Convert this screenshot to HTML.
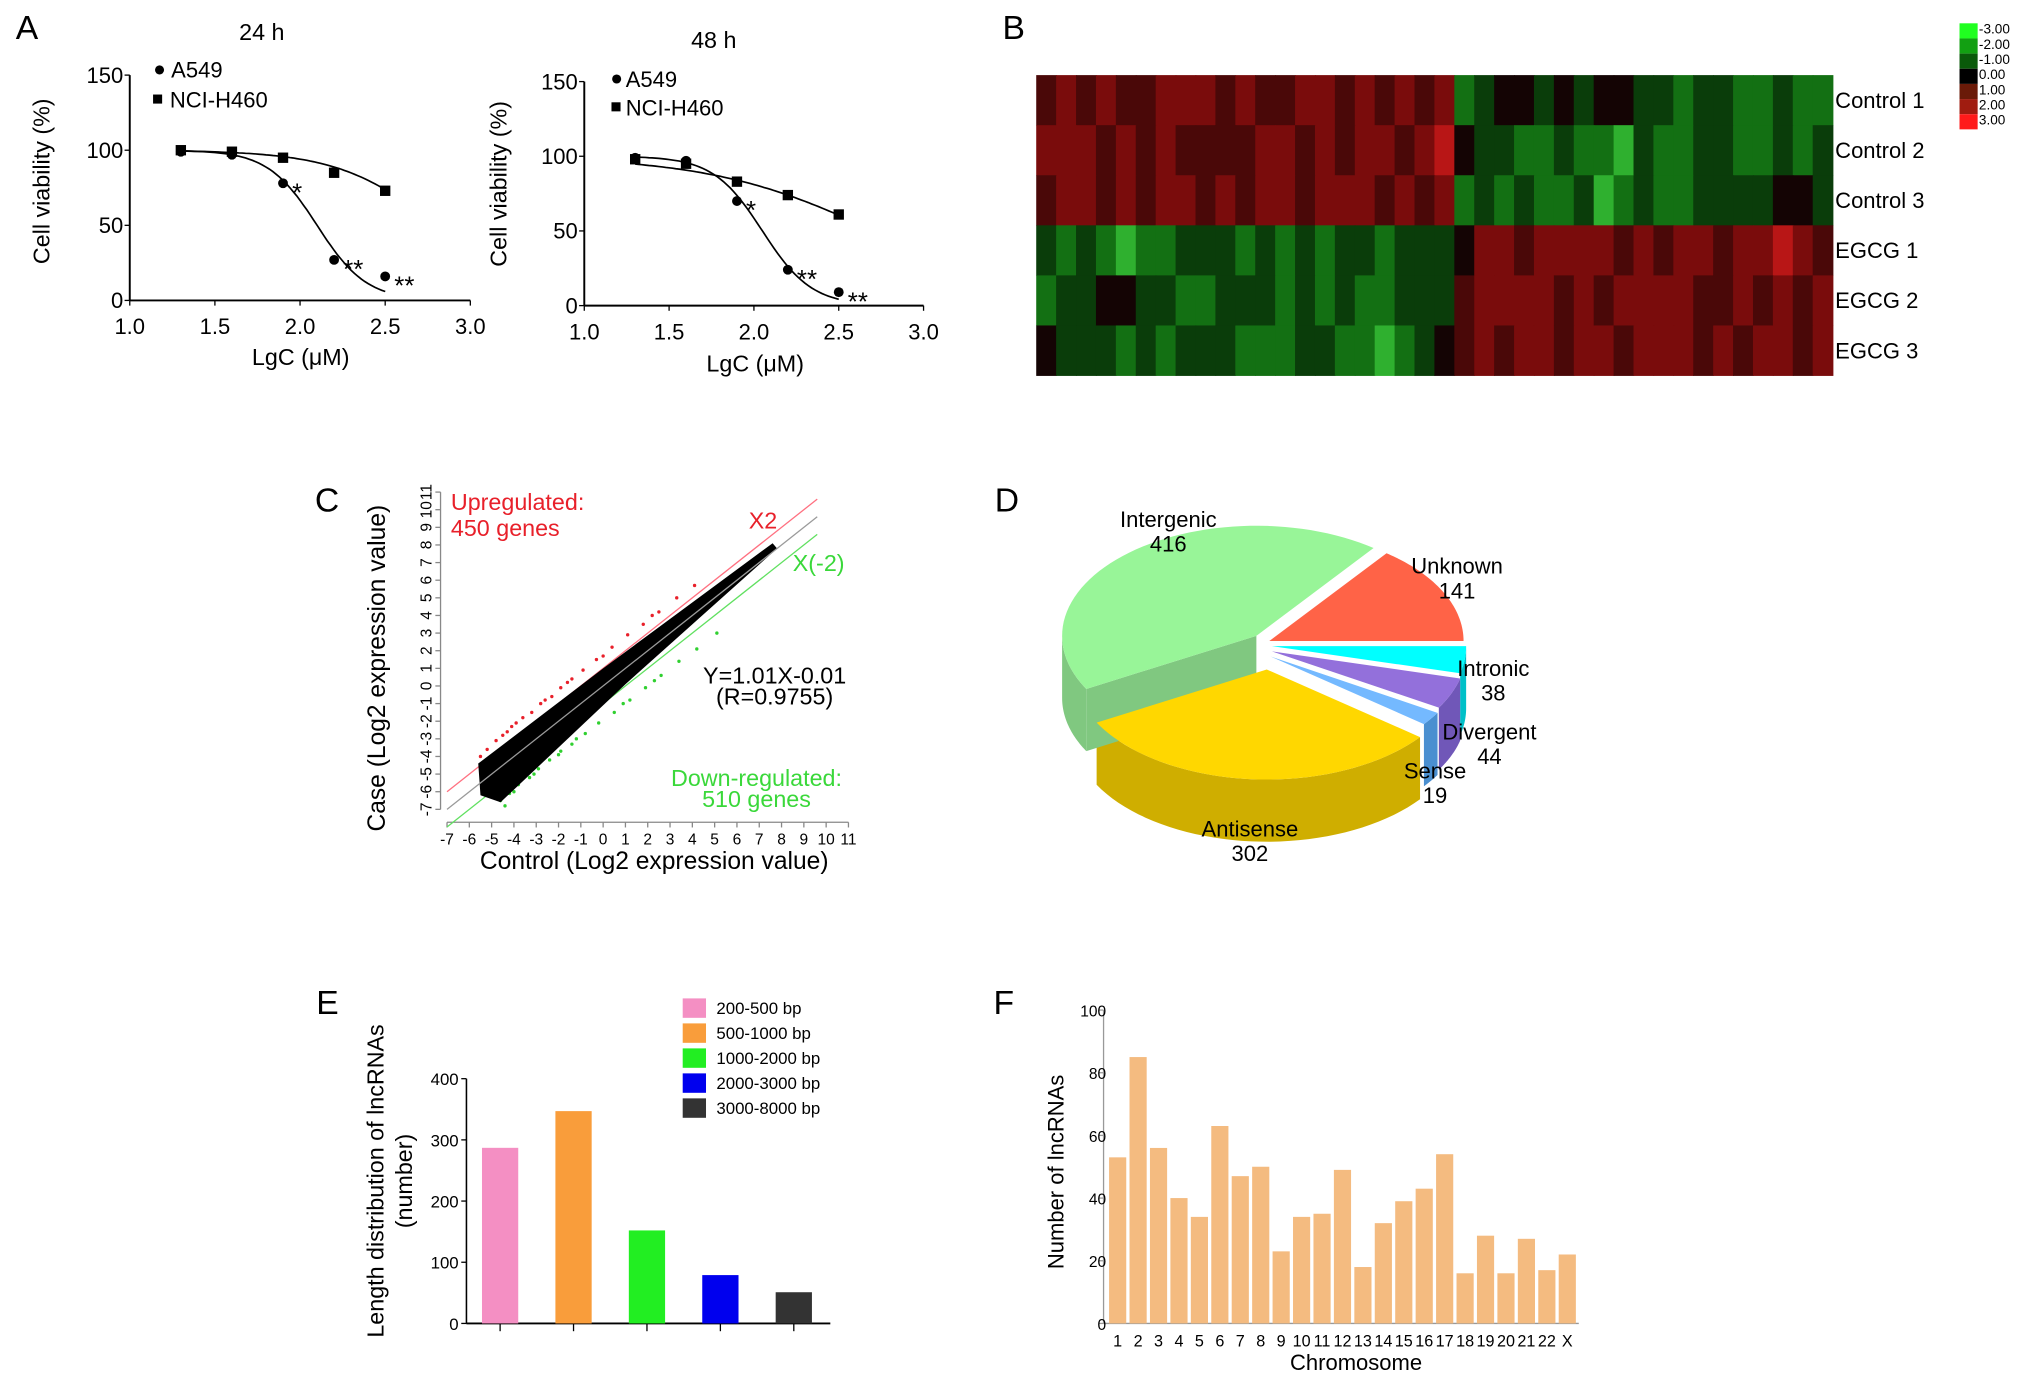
<!DOCTYPE html>
<html><head><meta charset="utf-8"><style>
html,body{margin:0;padding:0;background:#fff;}
svg{display:block;font-family:"Liberation Sans",sans-serif;}
</style></head><body>
<svg id="fig" width="2031" height="1383" viewBox="0 0 1568 1068" xmlns="http://www.w3.org/2000/svg">
<rect width="1568" height="1068" fill="#fff"/>
<g id="pA">
<text x="12" y="30" font-size="26">A</text>
<text x="202" y="31" font-size="18" text-anchor="middle">24 h</text>
<text x="551" y="37" font-size="18" text-anchor="middle">48 h</text>
<text transform="translate(38,140) rotate(-90)" font-size="18" text-anchor="middle">Cell viability (%)</text>
<text transform="translate(391,142) rotate(-90)" font-size="18" text-anchor="middle">Cell viability (%)</text>
<text x="232" y="282" font-size="18" text-anchor="middle">LgC (μM)</text>
<text x="583" y="287" font-size="18" text-anchor="middle">LgC (μM)</text>
<g>
<circle cx="123" cy="54" r="3.5" fill="#000"/><text x="132" y="60" font-size="17">A549</text>
<rect x="118" y="73" width="7" height="7" fill="#000"/><text x="131" y="83" font-size="17">NCI-H460</text></g>
<g>
<circle cx="476" cy="61" r="3.5" fill="#000"/><text x="483" y="67" font-size="17">A549</text>
<rect x="472" y="79" width="7" height="7" fill="#000"/><text x="483" y="89" font-size="17">NCI-H460</text></g>
</g>
<g id="pB">
<text x="774" y="30" font-size="26">B</text>
</g>
<g id="pC">
<text x="243" y="395" font-size="26">C</text>
<text transform="translate(297,516) rotate(-90)" font-size="19" text-anchor="middle">Case (Log2 expression value)</text>
<text x="505" y="671" font-size="19" text-anchor="middle">Control (Log2 expression value)</text>
<text x="348" y="394" font-size="18" fill="#e8202a">Upregulated:</text>
<text x="348" y="414" font-size="18" fill="#e8202a">450 genes</text>
<text x="578" y="408" font-size="18" fill="#e8202a">X2</text>
<text x="612" y="441" font-size="18" fill="#3ad83a">X(-2)</text>
<text x="598" y="528" font-size="18" text-anchor="middle">Y=1.01X-0.01</text>
<text x="598" y="544" font-size="18" text-anchor="middle">(R=0.9755)</text>
<text x="584" y="607" font-size="18" fill="#3ad83a" text-anchor="middle">Down-regulated:</text>
<text x="584" y="623" font-size="18" fill="#3ad83a" text-anchor="middle">510 genes</text>
</g>
<g id="pD">
<text x="768" y="395" font-size="26">D</text>
</g>
<g id="pE">
<text x="244" y="783" font-size="26">E</text>
<text transform="translate(296,912) rotate(-90)" font-size="18" text-anchor="middle">Length distribution of lncRNAs</text>
<text transform="translate(318,912) rotate(-90)" font-size="18" text-anchor="middle">(number)</text>
</g>
<g id="pF">
<text x="767" y="783" font-size="26">F</text>
<text transform="translate(821,905) rotate(-90)" font-size="17" text-anchor="middle">Number of lncRNAs</text>
<text x="1047" y="1058" font-size="17" text-anchor="middle">Chromosome</text>
</g>
</svg>
<script>
const NS="http://www.w3.org/2000/svg";
function mk(p,tag,at){const e=document.createElementNS(NS,tag);for(const k in at)e.setAttribute(k,at[k]);p.appendChild(e);return e;}
// ---------- Panel A data ----------
const doseX=[1.3,1.6,1.9,2.2,2.5];
const a549_24=[99,97,78,27,16];
const nci_24=[100,99,95,85,73];
const a549_48=[99,97,70,24,9];
const nci_48=[98,95,83,74,61];
const yTicksA=[0,50,100,150];
const xTicksA=[1.0,1.5,2.0,2.5,3.0];
const starsA=["","","*","**","**"];
// ---------- Panel B data (digit d => value d-3) ----------
const hmRows=["Control 1","Control 2","Control 3","EGCG 1","EGCG 2","EGCG 3"];
const hm1="4545445554544554545451233232332212211211";
const hm2="5554545444455454554563221121102112211212";
const hm3="4554545545455455545451212112012112222332";
const hm4="2121011222121212212223554555545455455654";
const hm5="1223322112221212112224555545455554454545";
const hm6="3222121222111221101234545545545554545545";
const hmData=[hm1,hm2,hm3,hm4,hm5,hm6];
const hmLegend=["-3.00","-2.00","-1.00","0.00","1.00","2.00","3.00"];
// ---------- Panel C data ----------
const cTicks=[-7,-6,-5,-4,-3,-2,-1,0,1,2,3,4,5,6,7,8,9,10,11];
const upX=[-5.2,-4.8,-4.5,-4.1,-3.6,-3.2,-2.8,-2.3,-1.9,-1.4,-0.9,-0.3,0.4,1.1,1.8,2.5,3.3,4.1,-5.5,-4.3,-3.9,-2.6,-1.6,0.0,2.2];
const upY=[-3.6,-3.1,-2.8,-2.3,-1.8,-1.5,-1.0,-0.6,-0.1,0.4,0.9,1.5,2.2,2.9,3.5,4.2,5.0,5.7,-4.0,-2.6,-2.1,-0.8,0.2,1.7,4.0];
const dnX=[-4.6,-4.2,-3.8,-3.3,-2.9,-2.4,-1.9,-1.4,-0.8,-0.2,0.5,1.2,1.9,2.6,3.4,4.2,5.1,-4.0,-3.1,-1.2,0.9,2.3,-4.4,-2.0];
const dnY=[-6.5,-6.1,-5.6,-5.2,-4.7,-4.2,-3.7,-3.3,-2.7,-2.1,-1.5,-0.8,-0.1,0.6,1.4,2.1,3.0,-6.0,-5.0,-3.0,-1.0,0.3,-6.8,-3.9];
// ---------- Panel D data ----------
const pieNames=["Intronic","Divergent","Sense","Antisense","Intergenic","Unknown"];
const pieVals=[38,44,19,302,416,141];
// ---------- Panel E data ----------
const eCats=["200-500 bp","500-1000 bp","1000-2000 bp","2000-3000 bp","3000-8000 bp"];
const eVals=[287,347,152,79,51];
const eTicks=[0,100,200,300,400];
// ---------- Panel F data ----------
const fCats=["1","2","3","4","5","6","7","8","9","10","11","12","13","14","15","16","17","18","19","20","21","22","X"];
const fVals=[53,85,56,40,34,63,47,50,23,34,35,49,18,32,39,43,54,16,28,16,27,17,22];
const fTicks=[0,20,40,60,80,100];

// ===== Panel A =====
function drawA(g,name,px0,px3,py0,py150,A,N,c50A,hA,c50N,hN){
  const sx=v=>px0+(v-1)*(px3-px0)/2, sy=v=>py0+(py150-py0)*v/150;
  const ax=mk(g,'g',{});
  
  
  mk(ax,'line',{x1:px0,y1:py150,x2:px0,y2:py0,stroke:'#000','stroke-width':1.5});
  mk(ax,'line',{x1:px0,y1:py0,x2:px3,y2:py0,stroke:'#000','stroke-width':1.5});
  yTicksA.forEach(t=>{mk(ax,'line',{x1:px0-4,x2:px0,y1:sy(t),y2:sy(t),stroke:'#000'});
    const tx=mk(ax,'text',{x:px0-5,y:sy(t)+6,'font-size':17,'text-anchor':'end'});tx.textContent=t;});
  xTicksA.forEach(t=>{mk(ax,'line',{x1:sx(t),x2:sx(t),y1:py0,y2:py0+4,stroke:'#000'});
    const tx=mk(ax,'text',{x:sx(t),y:py0+26,'font-size':17,'text-anchor':'middle'});tx.textContent=t.toFixed(1);});
  const curve=(c,h)=>{let d='';for(let i=0;i<=60;i++){const x=1.3+1.2*i/60;const y=100/(1+Math.pow(10,(x-c)*h));d+=(i?'L':'M')+sx(x).toFixed(1)+','+sy(y).toFixed(1);}return d;};
  const cA=mk(g,'path',{d:curve(c50A,hA),fill:'none',stroke:'#000','stroke-width':1.3});
  
  
  const cN=mk(g,'path',{d:curve(c50N,hN),fill:'none',stroke:'#000','stroke-width':1.3});
  
  
  doseX.forEach((x,i)=>{
    const p=mk(g,'circle',{cx:sx(x),cy:sy(A[i]),r:3.8,fill:'#000'});
    
    
    const q=mk(g,'rect',{x:sx(x)-4,y:sy(N[i])-4,width:8,height:8,fill:'#000'});
    
    
    if(starsA[i]){const s=mk(g,'text',{x:sx(x)+7,y:sy(A[i])+14,'font-size':20});s.textContent=starsA[i];
      
      }
  });
}
const gA=document.getElementById('pA');
drawA(gA,'chart-24h',100,363,232,58,a549_24,nci_24,2.1,3,2.8,1.5);
drawA(gA,'chart-48h',451,713,236,63,a549_48,nci_48,2.05,3,2.71,0.89);

// ===== Panel B =====
const gB=document.getElementById('pB');
const redScale=['#140404','#4a0808','#7a0c0c','#b81616'];
const greenScale=['#040f04','#0a3d0a','#137013','#2fb02f'];
function hmColor(v){return v>=0?redScale[v]:greenScale[-v];}
function legColor(v){return v>=0?['#000','#6a1a08','#a01c10','#ff1a1a'][v]:['#000','#0a5a0a','#12a012','#20ff20'][-v];}
const hx0=800,hx1=1415,hy0=58,hy1=290,rh=(hy1-hy0)/hmRows.length;
hmData.forEach((row,r)=>{const n=row.length,cw=(hx1-hx0)/n;
  for(let c=0;c<n;c++){const cell=mk(gB,'rect',{x:hx0+c*cw,y:hy0+r*rh,width:cw+0.6,height:rh+0.3,fill:hmColor(+row[c]-3)});
    
    }
  const t=mk(gB,'text',{x:1417,y:hy0+r*rh+rh/2+6,'font-size':17});t.textContent=hmRows[r];
  
  
});
hmLegend.forEach((l,i)=>{const v=-3+i;
  const sw=mk(gB,'rect',{x:1513,y:18+i*11.7,width:14,height:11.7,fill:legColor(v)});
  
  
  const t=mk(gB,'text',{x:1528,y:26+i*11.7,'font-size':10.5});t.textContent=l;
  
  });

// ===== Panel C =====
const gC=document.getElementById('pC');
const cx=v=>345+(v+7)*(655-345)/18, cy=v=>625-(v+7)*(625-380)/18;
const axC=mk(gC,'g',{});


mk(axC,'line',{x1:340,y1:cy(11),x2:340,y2:cy(-7),stroke:'#888'});
mk(axC,'line',{x1:cx(-7),y1:635,x2:cx(11),y2:635,stroke:'#888'});
cTicks.forEach(t=>{mk(axC,'line',{x1:336,x2:340,y1:cy(t),y2:cy(t),stroke:'#888'});
  const ty=mk(axC,'text',{transform:`translate(333,${cy(t)}) rotate(-90)`,'font-size':12,'text-anchor':'middle'});ty.textContent=t;
  mk(axC,'line',{x1:cx(t),x2:cx(t),y1:635,y2:639,stroke:'#888'});
  const tx=mk(axC,'text',{x:cx(t),y:652,'font-size':12,'text-anchor':'middle'});tx.textContent=t;});
const ln=(off,col,name)=>{const l=mk(gC,'line',{x1:cx(-7),y1:cy(-7+off),x2:cx(9.6),y2:cy(9.6+off),stroke:col,'stroke-width':1});
  
  };
ln(1,'#ff7080','fold-change-up-line');ln(-1,'#60e060','fold-change-down-line');
upX.forEach((x,i)=>{const p=mk(gC,'circle',{cx:cx(x),cy:cy(upY[i]),r:1.3,fill:'#e8202a'});
  
  });
dnX.forEach((x,i)=>{const p=mk(gC,'circle',{cx:cx(x),cy:cy(dnY[i]),r:1.3,fill:'#30d030'});
  
  });
const band=mk(gC,'polygon',{points:[[-5.6,-4.4],[0,1.0],[7.6,8.1],[7.8,7.8],[1,0.1],[-4.6,-6.6],[-5.5,-6.2]].map(p=>cx(p[0])+','+cy(p[1])).join(' '),fill:'#000'});


ln(0,'#9a9a9a','identity-line');

// ===== Panel D =====
const gD=document.getElementById('pD');
const tot=pieVals.reduce((a,b)=>a+b,0);
const PC={x:978,y:497},RX=150,RY=85,DEP=48;
const tops=['#00ffff','#9370db','#74b9ff','#ffd700','#98f598','#ff6347'];
const sides=['#00c0c8','#7057b8','#4a8fd0','#cfae00','#80c880','#b04a3a'];
const offs=[[4,2],[4,6],[3,10],[0,20],[-8,-6],[2,-2]];
let a=0;const sl=[];
pieVals.forEach((v,i)=>{const a0=a,a1=a+v/tot*2*Math.PI;a=a1;sl.push({a0,a1,i});});
const pt=(s,ang,dz)=>[PC.x+offs[s.i][0]+RX*Math.cos(ang),PC.y+offs[s.i][1]+RY*Math.sin(ang)+dz];
sl.forEach(s=>{const lo=Math.max(s.a0,0),hi=Math.min(s.a1,Math.PI);
  if(hi>lo){let d='';const n=40;
    for(let k=0;k<=n;k++){const p=pt(s,lo+(hi-lo)*k/n,0);d+=(k?'L':'M')+p[0]+','+p[1];}
    for(let k=n;k>=0;k--){const p=pt(s,lo+(hi-lo)*k/n,DEP);d+='L'+p[0]+','+p[1];}
    const w=mk(gD,'path',{d:d+'Z',fill:sides[s.i]});
    
    }
  [s.a0,s.a1].forEach(ang=>{const c=[PC.x+offs[s.i][0],PC.y+offs[s.i][1]],p=pt(s,ang,0);
    if(Math.cos(ang)<0&&s.i===4){const f=mk(gD,'path',{d:`M${c[0]},${c[1]}L${p[0]},${p[1]}L${p[0]},${p[1]+DEP}L${c[0]},${c[1]+DEP}Z`,fill:sides[s.i]});
      
      }});
});
[4,5,0,1,2,3].forEach(j=>{const s=sl[j];let d=`M${PC.x+offs[s.i][0]},${PC.y+offs[s.i][1]}`;const n=60;
  for(let k=0;k<=n;k++){const p=pt(s,s.a0+(s.a1-s.a0)*k/n,0);d+='L'+p[0]+','+p[1];}
  const t=mk(gD,'path',{d:d+'Z',fill:tops[s.i]});
  
  });
const pieLab=[[1153,522],[1150,571],[1108,601],[965,646],[902,407],[1125,443]];
pieNames.forEach((nm,i)=>{const t=mk(gD,'text',{x:pieLab[i][0],y:pieLab[i][1],'font-size':17,'text-anchor':'middle'});t.textContent=nm;
  
  
  const v=mk(gD,'text',{x:pieLab[i][0],y:pieLab[i][1]+19,'font-size':17,'text-anchor':'middle'});v.textContent=pieVals[i];
  
  });

// ===== Panel E =====
const gE=document.getElementById('pE');
const eCols=['#f48fc3','#f99d3b','#22ee22','#0000ee','#333333'];
const ey=v=>1022-v*(1022-833)/400;
const axE=mk(gE,'g',{});


mk(axE,'line',{x1:360,y1:833,x2:360,y2:1022,stroke:'#000','stroke-width':1.2});
mk(axE,'line',{x1:360,y1:1022,x2:641,y2:1022,stroke:'#000','stroke-width':1.5});
eTicks.forEach(t=>{mk(axE,'line',{x1:356,x2:360,y1:ey(t),y2:ey(t),stroke:'#000'});
  const tx=mk(axE,'text',{x:354,y:ey(t)+5,'font-size':13,'text-anchor':'end'});tx.textContent=t;});
eVals.forEach((v,i)=>{const xc=386+i*56.7;
  const b=mk(gE,'rect',{x:xc-14,y:ey(v),width:28,height:1022-ey(v),fill:eCols[i]});
  
  
  mk(axE,'line',{x1:xc,x2:xc,y1:1022,y2:1028,stroke:'#000'});
  const sw=mk(gE,'rect',{x:527,y:771+i*19.3,width:18,height:15,fill:eCols[i]});
  
  
  const t=mk(gE,'text',{x:553,y:783+i*19.3,'font-size':13});t.textContent=eCats[i];
  
  });

// ===== Panel F =====
const gF=document.getElementById('pF');
const fy=v=>1022-v*(1022-780)/100;
const axF=mk(gF,'g',{});


mk(axF,'line',{x1:852,y1:780,x2:852,y2:1022,stroke:'#999'});
mk(axF,'line',{x1:852,y1:1022,x2:1219,y2:1022,stroke:'#999'});
fTicks.forEach(t=>{mk(axF,'line',{x1:848,x2:852,y1:fy(t),y2:fy(t),stroke:'#999'});
  const tx=mk(axF,'text',{x:854,y:fy(t)+5,'font-size':12,'text-anchor':'end'});tx.textContent=t;});
const pitch=(1218-855)/fCats.length;
fVals.forEach((v,i)=>{const xc=855+pitch*(i+0.5);
  const b=mk(gF,'rect',{x:xc-pitch*0.42,y:fy(v),width:pitch*0.84,height:1022-fy(v),fill:'#f4bb80'});
  
  
  const t=mk(gF,'text',{x:xc,y:1040,'font-size':12.5,'text-anchor':'middle'});t.textContent=fCats[i];
  
  });
</script>
</body></html>
